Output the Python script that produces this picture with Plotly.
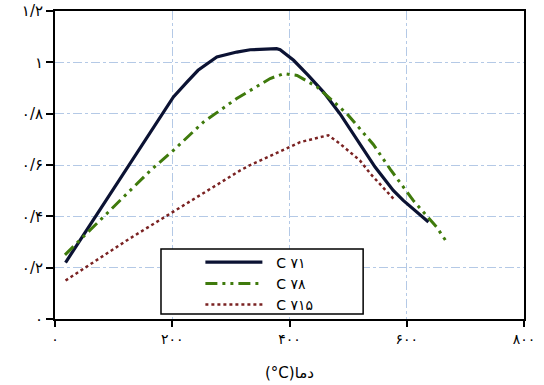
import plotly.graph_objects as go

# Data
x71 = [18, 120, 202, 225, 244, 276, 310, 333, 378, 384, 407, 432, 458, 486, 503, 526, 546, 577, 594, 637]
y71 = [0.22, 0.579, 0.865, 0.923, 0.969, 1.021, 1.040, 1.049, 1.053, 1.049, 1.008, 0.949, 0.884, 0.80, 0.74, 0.657, 0.592, 0.501, 0.462, 0.378]

x78 = [17, 163, 202, 253, 310, 367, 390, 413, 447, 498, 543, 572, 611, 651, 668]
y78 = [0.25, 0.579, 0.657, 0.767, 0.859, 0.937, 0.956, 0.949, 0.904, 0.80, 0.68, 0.583, 0.462, 0.358, 0.30]

x715 = [18, 123, 316, 333, 418, 466, 486, 520, 538, 580]
y715 = [0.15, 0.307, 0.579, 0.60, 0.689, 0.716, 0.683, 0.618, 0.566, 0.462]

names = ["\u00a0\u00a0C ۷۱", "\u00a0\u00a0C ۷۸", "\u00a0\u00a0C ۷۱۵"]

x_tickvals = [0, 200, 400, 600, 800]
x_ticktext = ["۰", "۲۰۰", "۴۰۰", "۶۰۰", "۸۰۰"]
y_tickvals = [0, 0.2, 0.4, 0.6, 0.8, 1.0, 1.2]
y_ticktext = ["۰", "۰/۲", "۰/۴", "۰/۶", "۰/۸", "۱", "۱/۲"]
x_title = "(°C)دما"

fig = go.Figure()
fig.add_trace(go.Scatter(x=x71, y=y71, mode="lines", name=names[0],
                         line=dict(color="#0b1233", width=3.2)))
fig.add_trace(go.Scatter(x=x78, y=y78, mode="lines", name=names[1],
                         line=dict(color="#3f7a0c", width=3, dash="12px,5px,3px,5px,3px,5px")))
fig.add_trace(go.Scatter(x=x715, y=y715, mode="lines", name=names[2],
                         line=dict(color="#7a2222", width=2.5, dash="dot")))

grid_col = "#b4c9e6"
fig.update_layout(
    width=544, height=385,
    margin=dict(l=55, r=20, t=11, b=66, autoexpand=False),
    paper_bgcolor="white", plot_bgcolor="white",
    font=dict(family="DejaVu Sans", color="black", size=14),
    showlegend=True,
    legend=dict(x=0.31, y=0.235, xanchor="left", yanchor="top",
                bgcolor="rgba(0,0,0,0)", borderwidth=0,
                font=dict(family="DejaVu Sans", size=14, color="black"),
                itemwidth=57, tracegroupgap=0),
    shapes=[dict(type="rect", xref="paper", yref="paper",
                 x0=0.226, x1=0.657, y0=0.016, y1=0.227,
                 line=dict(color="black", width=1.5), fillcolor="white", layer="above")],
)
fig.update_xaxes(range=[0, 800], tickvals=x_tickvals, ticktext=x_ticktext,
                 showline=True, linecolor="black", linewidth=2, mirror=True,
                 ticks="outside", ticklen=6, tickwidth=1.5, tickcolor="black",
                 showgrid=True, gridcolor=grid_col, griddash="dashdot", gridwidth=1,
                 zeroline=False, automargin=False,
                 title=dict(text=x_title, font=dict(size=15), standoff=22),
                 tickfont=dict(size=14))
fig.update_yaxes(range=[0, 1.2], tickvals=y_tickvals, ticktext=y_ticktext,
                 showline=True, linecolor="black", linewidth=2, mirror=True,
                 ticks="outside", ticklen=7, tickwidth=1.5, tickcolor="black",
                 showgrid=True, gridcolor=grid_col, griddash="dashdot", gridwidth=1,
                 zeroline=False, automargin=False, tickfont=dict(size=15))

fig.write_html("out.html")
